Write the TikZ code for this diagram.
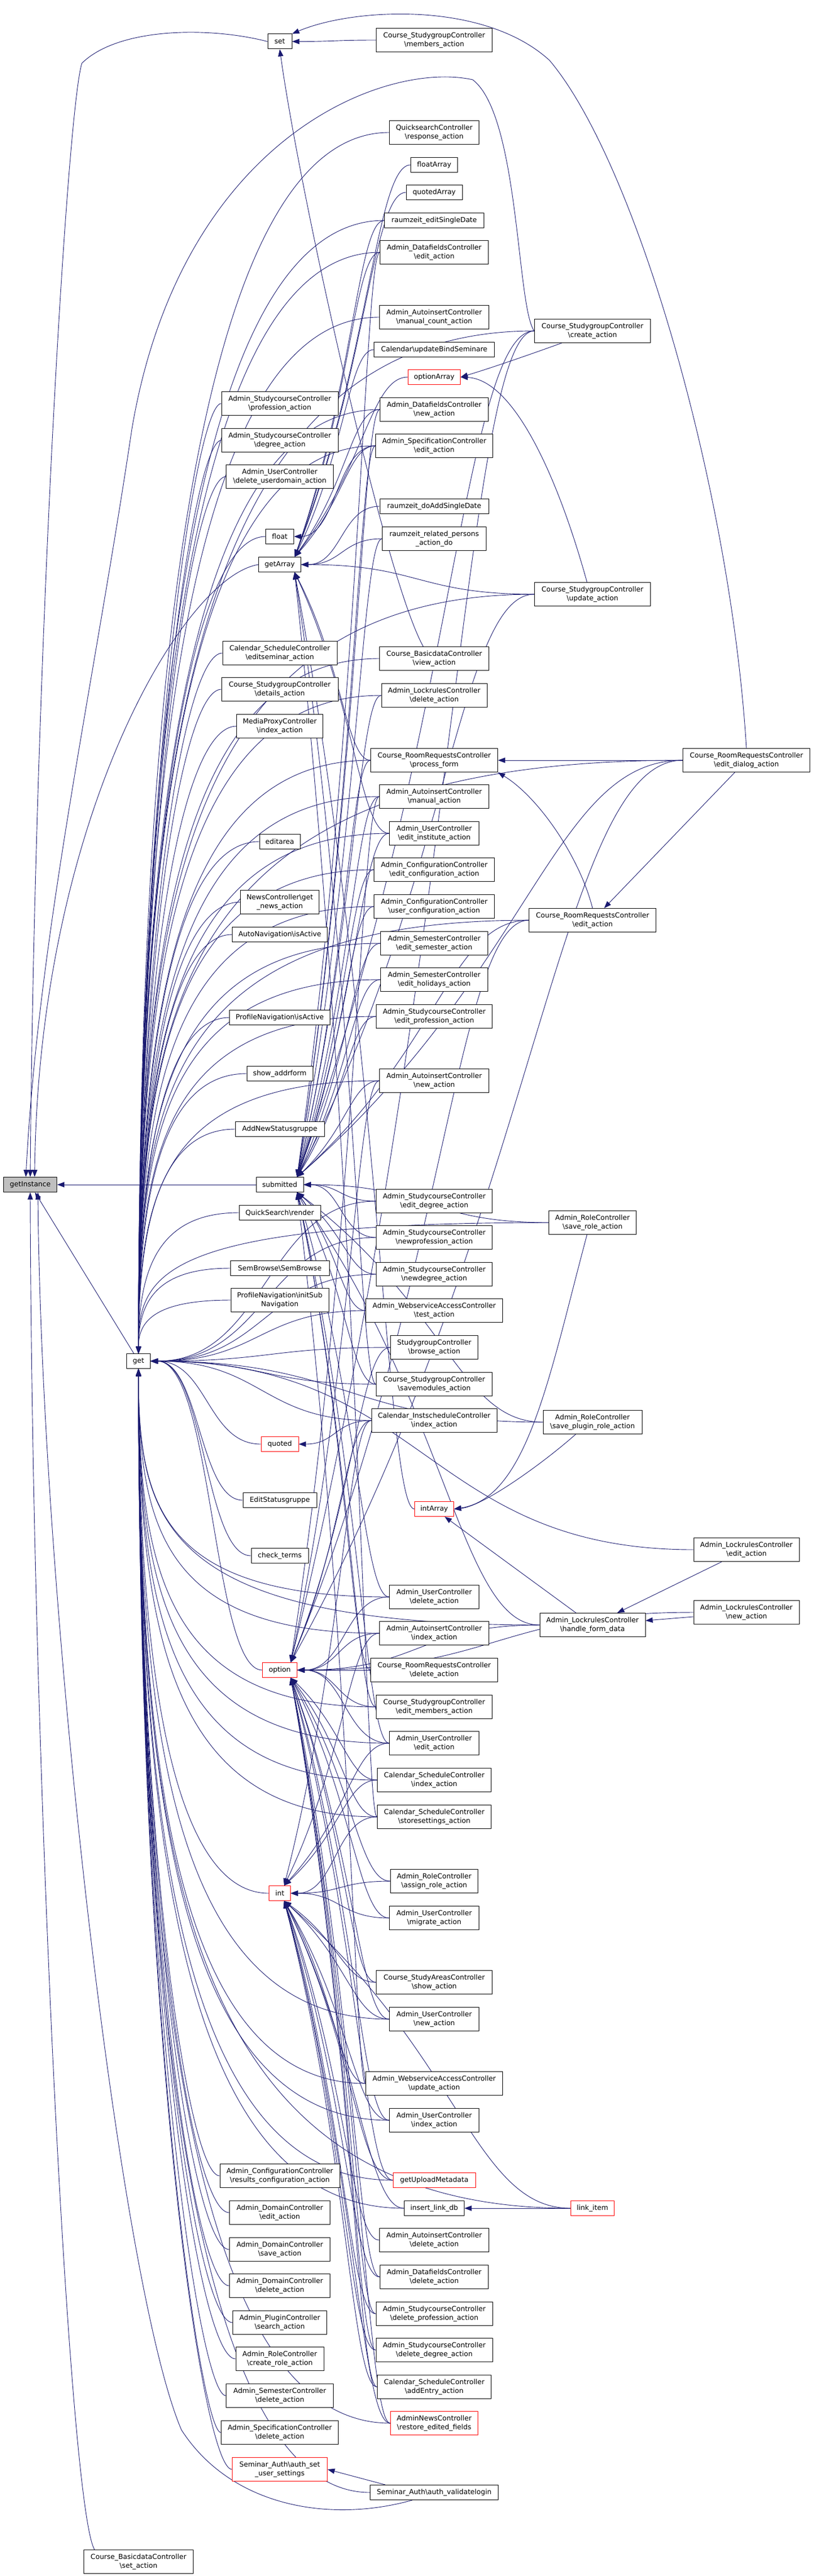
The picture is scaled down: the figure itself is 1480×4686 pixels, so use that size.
\documentclass[tikz,border=0pt]{standalone}
\usepackage{fontspec}
\setmainfont{DejaVu Sans}
\usetikzlibrary{arrows.meta,calc}
\definecolor{edgeblue}{HTML}{191970}
\definecolor{rootgray}{HTML}{BFBFBF}
\pgfdeclarelayer{bg}
\pgfsetlayers{bg,main}
\newcommand\bs{\textbackslash}
\newcommand\dvsz{\fontsize{12.6}{16}\selectfont}
% horizontal S-curve: caller west -> callee east
\newcommand\edgeH[2]{\draw[call] let \p1=(#1.west), \p2=(#2.east), \n1={0.5*(\x1-\x2)}, \n2={min(0.02*abs(\y1-(\y2)),40pt)} in (\p1) .. controls (\x1-\n1+\n2,\y1) and (\x2+\n1+\n2,\y2) .. (\p2);}
% caller above: arrive at callee top-right
\newcommand\edgeAb[2]{\draw[call] let \p1=(#1.west), \p2=($(#2.north east)+(-12pt,0pt)$), \n1={\x1-\x2}, \n2={\y1-(\y2)}, \n3={min(0.015*\n2,30pt)} in (\p1) .. controls (\x1-0.35*\n1+\n3,\y1) and (\x2+0.6*\n1+\n3,\y2+0.5*\n2) .. (\p2);}
% caller below: arrive at callee bottom-right
\newcommand\edgeBe[2]{\draw[call] let \p1=(#1.west), \p2=($(#2.south east)+(-12pt,0pt)$), \n1={\x1-\x2}, \n2={\y2-(\y1)}, \n3={min(0.015*\n2,30pt)} in (\p1) .. controls (\x1-0.35*\n1+\n3,\y1) and (\x2+0.6*\n1+\n3,\y2-0.5*\n2) .. (\p2);}
% long edges into get: down into its top / up into its bottom
\newcommand\edgeD[2]{\draw[call] let \p1=(#1.west), \p2=(#2.north), \n2={\y1-(\y2)}, \n3={min(0.045*\n2,115pt)} in (\p1) .. controls (\x2+25pt+\n3,\y1) and (\x2,\y2+0.6*\n2) .. (\p2);}
\newcommand\edgeU[2]{\draw[call] let \p1=(#1.west), \p2=(#2.south), \n2={\y2-(\y1)}, \n3={min(0.045*\n2,115pt)} in (\p1) .. controls (\x2+25pt+\n3,\y1) and (\x2,\y2-0.6*\n2) .. (\p2);}
\begin{document}
\begin{tikzpicture}[x=1pt,y=1pt,
  nd/.style={draw=black, line width=1pt, fill=white, inner xsep=2pt, inner ysep=1pt, align=center, font=\dvsz, minimum height=27pt, minimum width=#1},
  nd2/.style={nd=#1, minimum height=43pt},
  rd/.style={nd=#1, draw=red},
  rd2/.style={nd2=#1, draw=red},
  call/.style={draw=edgeblue, line width=0.9pt, -{Triangle[length=13pt,width=9.5pt]}}]
\useasboundingbox (0,0) rectangle (1480,-4686);
\begin{pgfonlayer}{bg}\fill[white] (0,0) rectangle (1480,-4686);\end{pgfonlayer}

% ---------- rank 0/1 ----------
\node[nd=97pt, fill=rootgray] (gi) at (55,-2155) {getInstance};
\node[nd=43pt] (get) at (252,-2476) {get};
\node[nd2=199pt] (setaction) at (252,-4660) {Course\_BasicdataController\\\bs set\_action};

% ---------- column B ----------
\node[nd=44pt] (set) at (509,-75.5) {set};
\node[nd2=212pt] (prof) at (509,-734) {Admin\_StudycourseController\\\bs profession\_action};
\node[nd2=212pt] (degree) at (509,-801) {Admin\_StudycourseController\\\bs degree\_action};
\node[nd2=195pt] (deluserdom) at (509,-867) {Admin\_UserController\\\bs delete\_userdomain\_action};
\node[nd=51pt] (float) at (509,-976) {float};
\node[nd=77pt] (getArray) at (509,-1027) {getArray};
\node[nd2=208pt] (editseminar) at (509,-1188) {Calendar\_ScheduleController\\\bs editseminar\_action};
\node[nd2=212pt] (details) at (509,-1254) {Course\_StudygroupController\\\bs details\_action};
\node[nd2=157pt] (mediaproxy) at (509,-1321) {MediaProxyController\\\bs index\_action};
\node[nd=74pt] (editarea) at (509,-1531) {editarea};
\node[nd2=143pt] (getnews) at (509,-1641) {NewsController\bs get\\\_news\_action};
\node[nd=173pt] (autonav) at (509,-1700) {AutoNavigation\bs isActive};
\node[nd=183pt] (profnav) at (509,-1851) {ProfileNavigation\bs isActive};
\node[nd=120pt] (showaddr) at (509,-1953) {show\_addrform};
\node[nd=162pt] (addnew) at (509,-2054) {AddNewStatusgruppe};
\node[nd=86pt] (submitted) at (509,-2155) {submitted};
\node[nd=148pt] (qsrender) at (509,-2206) {QuickSearch\bs render};
\node[nd=180pt] (sembrowse) at (509,-2307) {SemBrowse\bs SemBrowse};
\node[nd2=178pt] (initsub) at (509,-2365) {ProfileNavigation\bs initSub\\Navigation};
\node[rd=68pt] (quoted) at (509,-2627) {quoted};
\node[nd=134pt] (editstatus) at (509,-2729) {EditStatusgruppe};
\node[nd=104pt] (checkterms) at (509,-2830) {check\_terms};
\node[rd=63pt] (option) at (509,-3038) {option};
\node[rd=39pt] (int) at (509,-3444) {int};
\node[nd2=218pt] (resultsconf) at (509,-3958) {Admin\_ConfigurationController\\\bs results\_configuration\_action};
\node[nd2=183pt] (domedit) at (509,-4025) {Admin\_DomainController\\\bs edit\_action};
\node[nd2=183pt] (domsave) at (509,-4092) {Admin\_DomainController\\\bs save\_action};
\node[nd2=183pt] (domdel) at (509,-4158) {Admin\_DomainController\\\bs delete\_action};
\node[nd2=171pt] (pluginsearch) at (509,-4225) {Admin\_PluginController\\\bs search\_action};
\node[nd2=160pt] (createrole) at (509,-4291) {Admin\_RoleController\\\bs create\_role\_action};
\node[nd2=195pt] (semdel) at (509,-4358) {Admin\_SemesterController\\\bs delete\_action};
\node[nd2=213pt] (specdel) at (509,-4425) {Admin\_SpecificationController\\\bs delete\_action};
\node[rd2=173pt] (setusersettings) at (509,-4492) {Seminar\_Auth\bs auth\_set\\\_user\_settings};

% ---------- column C ----------
\node[nd2=211pt] (members) at (790,-73) {Course\_StudygroupController\\\bs members\_action};
\node[nd2=163pt] (qsresponse) at (790,-241) {QuicksearchController\\\bs response\_action};
\node[nd=85pt] (floatArray) at (790,-300) {floatArray};
\node[nd=102pt] (quotedArray) at (790,-350) {quotedArray};
\node[nd=181pt] (editsingle) at (790,-401) {raumzeit\_editSingleDate};
\node[nd2=197pt] (dfedit) at (790,-459) {Admin\_DatafieldsController\\\bs edit\_action};
\node[nd2=199pt] (manualcount) at (790,-577) {Admin\_AutoinsertController\\\bs manual\_count\_action};
\node[nd=219pt] (updbind) at (790,-636) {Calendar\bs updateBindSeminare};
\node[rd=95pt] (optionArray) at (790,-686) {optionArray};
\node[nd2=197pt] (dfnew) at (790,-745) {Admin\_DatafieldsController\\\bs new\_action};
\node[nd2=213pt] (specedit) at (790,-811) {Admin\_SpecificationController\\\bs edit\_action};
\node[nd=198pt] (doaddsingle) at (790,-921) {raumzeit\_doAddSingleDate};
\node[nd2=189pt] (relpersons) at (790,-980) {raumzeit\_related\_persons\\\_action\_do};
\node[nd2=199pt] (basicview) at (790,-1198) {Course\_BasicdataController\\\bs view\_action};
\node[nd2=192pt] (lockdel) at (790,-1265) {Admin\_LockrulesController\\\bs delete\_action};
\node[nd2=231pt] (processform) at (790,-1383) {Course\_RoomRequestsController\\\bs process\_form};
\node[nd2=199pt] (manual) at (790,-1449) {Admin\_AutoinsertController\\\bs manual\_action};
\node[nd2=163pt] (editinst) at (790,-1516) {Admin\_UserController\\\bs edit\_institute\_action};
\node[nd2=219pt] (editconf) at (790,-1582) {Admin\_ConfigurationController\\\bs edit\_configuration\_action};
\node[nd2=219pt] (userconf) at (790,-1649) {Admin\_ConfigurationController\\\bs user\_configuration\_action};
\node[nd2=195pt] (editsem) at (790,-1716) {Admin\_SemesterController\\\bs edit\_semester\_action};
\node[nd2=195pt] (editholi) at (790,-1782) {Admin\_SemesterController\\\bs edit\_holidays\_action};
\node[nd2=211pt] (editprof) at (790,-1849) {Admin\_StudycourseController\\\bs edit\_profession\_action};
\node[nd2=199pt] (ainew) at (790,-1966) {Admin\_AutoinsertController\\\bs new\_action};
\node[nd2=211pt] (editdeg) at (790,-2185) {Admin\_StudycourseController\\\bs edit\_degree\_action};
\node[nd2=211pt] (newprof) at (790,-2251) {Admin\_StudycourseController\\\bs newprofession\_action};
\node[nd2=211pt] (newdeg) at (790,-2318) {Admin\_StudycourseController\\\bs newdegree\_action};
\node[nd2=249pt] (wstest) at (790,-2384) {Admin\_WebserviceAccessController\\\bs test\_action};
\node[nd2=159pt] (browse) at (790,-2451) {StudygroupController\\\bs browse\_action};
\node[nd2=211pt] (savemod) at (790,-2518) {Course\_StudygroupController\\\bs savemodules\_action};
\node[nd2=228pt] (instsched) at (790,-2584) {Calendar\_InstscheduleController\\\bs index\_action};
\node[rd=71pt] (intArray) at (790,-2745) {intArray};
\node[nd2=163pt] (userdel) at (790,-2905) {Admin\_UserController\\\bs delete\_action};
\node[nd2=199pt] (aiindex) at (790,-2971) {Admin\_AutoinsertController\\\bs index\_action};
\node[nd2=231pt] (rrdel) at (790,-3038) {Course\_RoomRequestsController\\\bs delete\_action};
\node[nd2=211pt] (editmembers) at (790,-3105) {Course\_StudygroupController\\\bs edit\_members\_action};
\node[nd2=163pt] (useredit) at (790,-3171) {Admin\_UserController\\\bs edit\_action};
\node[nd2=207pt] (schedindex) at (790,-3238) {Calendar\_ScheduleController\\\bs index\_action};
\node[nd2=207pt] (storeset) at (790,-3305) {Calendar\_ScheduleController\\\bs storesettings\_action};
\node[nd2=159pt] (assignrole) at (790,-3422) {Admin\_RoleController\\\bs assign\_role\_action};
\node[nd2=163pt] (migrate) at (790,-3489) {Admin\_UserController\\\bs migrate\_action};
\node[nd2=211pt] (studyareas) at (790,-3606) {Course\_StudyAreasController\\\bs show\_action};
\node[nd2=163pt] (usernew) at (790,-3673) {Admin\_UserController\\\bs new\_action};
\node[nd2=249pt] (wsupdate) at (790,-3790) {Admin\_WebserviceAccessController\\\bs update\_action};
\node[nd2=163pt] (userindex) at (790,-3857) {Admin\_UserController\\\bs index\_action};
\node[rd=150pt] (uploadmeta) at (790,-3966) {getUploadMetadata};
\node[nd=109pt] (insertlink) at (790,-4017) {insert\_link\_db};
\node[nd2=199pt] (aidel) at (790,-4075) {Admin\_AutoinsertController\\\bs delete\_action};
\node[nd2=197pt] (dfdel) at (790,-4142) {Admin\_DatafieldsController\\\bs delete\_action};
\node[nd2=212pt] (delprof) at (790,-4209) {Admin\_StudycourseController\\\bs delete\_profession\_action};
\node[nd2=212pt] (deldeg) at (790,-4275) {Admin\_StudycourseController\\\bs delete\_degree\_action};
\node[nd2=207pt] (addentry) at (790,-4342) {Calendar\_ScheduleController\\\bs addEntry\_action};
\node[rd2=159pt] (restorenews) at (790,-4408) {AdminNewsController\\\bs restore\_edited\_fields};
\node[nd=233pt] (validate) at (790,-4534) {Seminar\_Auth\bs auth\_validatelogin};

% ---------- column D ----------
\node[nd2=211pt] (create) at (1078,-602) {Course\_StudygroupController\\\bs create\_action};
\node[nd2=211pt] (update) at (1078,-1081) {Course\_StudygroupController\\\bs update\_action};
\node[nd2=231pt] (rredit) at (1078,-1674) {Course\_RoomRequestsController\\\bs edit\_action};
\node[nd2=159pt] (saverole) at (1078,-2224) {Admin\_RoleController\\\bs save\_role\_action};
\node[nd2=180pt] (saveplugin) at (1078,-2587) {Admin\_RoleController\\\bs save\_plugin\_role\_action};
\node[nd2=192pt] (handleform) at (1078,-2956) {Admin\_LockrulesController\\\bs handle\_form\_data};
\node[rd=79pt] (linkitem) at (1078,-4017) {link\_item};

% ---------- column E ----------
\node[nd2=231pt] (editdialog) at (1358,-1383) {Course\_RoomRequestsController\\\bs edit\_dialog\_action};
\node[nd2=192pt] (lockedit) at (1358,-2819) {Admin\_LockrulesController\\\bs edit\_action};
\node[nd2=192pt] (locknew) at (1358,-2933) {Admin\_LockrulesController\\\bs new\_action};

% ---------- connectors ----------
\begin{pgfonlayer}{bg}
% into getInstance
\draw[call] (set.west) .. controls (380,-48) and (215,-50) .. (149,-115) .. controls (122,-200) and (63,-1200) .. (gi.north);
\draw[call] (create.west) .. controls (940,-560) and (945,-210) .. (860,-145) .. controls (700,-110) and (330,-250) .. (240,-780) .. controls (170,-1250) and (70,-1700) .. ($(gi.north)+(-8,0)$);
\draw[call] ($(setaction.north west)+(20,0)$) .. controls (125,-4560) and (58,-3200) .. (gi.south);
\draw[call] ($(validate.south west)+(77,0)$) .. controls (600,-4590) and (420,-4560) .. (330,-4420) .. controls (215,-4150) and (75,-2900) .. ($(gi.south)+(14,0)$);
\draw[call] (getArray.west) .. controls (330,-1050) and (70,-1500) .. ($(gi.north)+(8,0)$);
\edgeH{submitted}{gi}
\draw[call] (get) -- (gi);
% into set
\edgeH{members}{set}
\draw[call] (editdialog.north) .. controls (1330,-900) and (1160,-300) .. (1000,-110) .. controls (880,0) and (640,-15) .. (set.north east);
\draw[call] ($(basicview.north west)+(80,0)$) .. controls (700,-1050) and (545,-350) .. (set.south);
% float, quoted
\edgeH{specedit}{float}
\edgeH{instsched}{quoted}
% into get
\foreach \nm in {prof,degree,deluserdom,float,editseminar,details,mediaproxy,editarea,getnews,autonav,profnav,showaddr,addnew,qsrender,sembrowse,initsub}{\edgeD{\nm}{get}}
\foreach \nm in {quoted,editstatus,checkterms,option}{\edgeH{\nm}{get}}
\foreach \nm in {int,resultsconf,domedit,domsave,domdel,pluginsearch,createrole,semdel,specdel,setusersettings}{\edgeU{\nm}{get}}
\foreach \nm in {qsresponse,editsingle,dfedit,manualcount,dfnew,specedit,basicview,lockdel,processform,manual,editinst,editconf,userconf,editsem,editholi,editprof,ainew,create,update,rredit,editdialog,saverole}{\edgeD{\nm}{get}}
\foreach \nm in {editdeg,newprof,newdeg,wstest,browse,savemod,instsched,saveplugin,lockedit}{\edgeH{\nm}{get}}
\foreach \nm in {userdel,aiindex,editmembers,useredit,schedindex,storeset,usernew,wsupdate,userindex,uploadmeta,insertlink,restorenews,validate,handleform,linkitem}{\edgeU{\nm}{get}}
% into submitted
\foreach \nm in {dfedit,dfnew,specedit,relpersons,lockdel,processform,manual,editinst,editconf,userconf,editsem,editholi,editprof,ainew,create,update,rredit,editdialog}{\edgeAb{\nm}{submitted}}
\foreach \nm in {editdeg,newprof,saverole}{\edgeH{\nm}{submitted}}
\foreach \nm in {newdeg,wstest,savemod,userdel,rrdel,editmembers,useredit,wsupdate,saveplugin,handleform}{\edgeBe{\nm}{submitted}}
% into getArray
\foreach \nm in {floatArray,quotedArray,editsingle,dfedit,updbind,optionArray,dfnew,specedit}{\edgeAb{\nm}{getArray}}
\foreach \nm in {doaddsingle,relpersons,update}{\edgeH{\nm}{getArray}}
\foreach \nm in {processform,editinst,savemod,storeset,intArray}{\edgeBe{\nm}{getArray}}
% into option
\foreach \nm in {create,manual,ainew,browse,instsched,editdialog,rredit}{\edgeAb{\nm}{option}}
\foreach \nm in {userdel,aiindex,rrdel,editmembers,useredit,handleform,locknew}{\edgeH{\nm}{option}}
\foreach \nm in {schedindex,storeset,assignrole,migrate,studyareas,usernew,userindex,uploadmeta,dfdel,delprof,deldeg,addentry,restorenews}{\edgeBe{\nm}{option}}
% into int
\foreach \nm in {instsched,aiindex,useredit,schedindex}{\edgeAb{\nm}{int}}
\foreach \nm in {storeset,assignrole,migrate}{\edgeH{\nm}{int}}
\foreach \nm in {studyareas,usernew,wsupdate,userindex,uploadmeta,insertlink,aidel,dfdel,delprof,deldeg,addentry,restorenews,linkitem}{\edgeBe{\nm}{int}}
% others
\draw[call] ($(create.south west)+(50,0)$) .. controls (950,-650) and (885,-672) .. (optionArray.east);
\draw[call] ($(update.north)+(-10,0)$) .. controls (1010,-850) and (930,-690) .. (optionArray.east);
\edgeH{editdialog}{processform}
\draw[call] (editdialog) -- (rredit);
\draw[call] (rredit.north) .. controls (1055,-1560) and (980,-1450) .. (processform.south east);
\draw[call] (handleform) -- (intArray);
\draw[call] ($(saveplugin.south west)+(60,0)$) .. controls (990,-2660) and (880,-2740) .. (intArray.east);
\draw[call] ($(saverole.south)+(-10,0)$) .. controls (1000,-2500) and (960,-2725) .. (intArray.east);
\draw[call] (lockedit) -- (handleform);
\draw[call] (locknew) -- (handleform);
\edgeH{linkitem}{insertlink}
\draw[call] ($(validate.north west)+(28,0)$) -- (setusersettings.east);
\end{pgfonlayer}
\end{tikzpicture}
\end{document}
